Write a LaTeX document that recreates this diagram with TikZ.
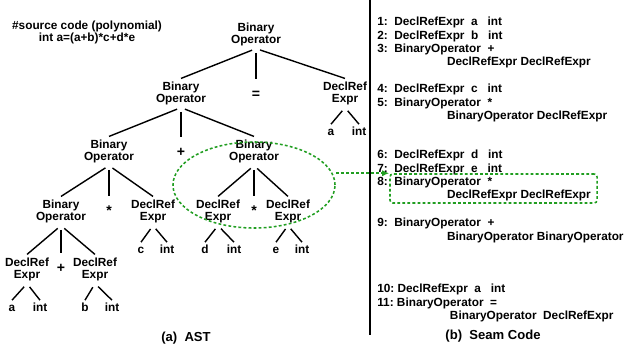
\documentclass[tikz,border=0pt]{standalone}
\usepackage{fontspec}
\setmainfont{Liberation Sans}
\usetikzlibrary{shapes.geometric,arrows.meta}
\definecolor{selgreen}{rgb}{0.13, 0.62, 0.13}

\tikzset{
  ast/.style={font=\bfseries\fontsize{8.4}{8.5}\selectfont, align=center, inner sep=2pt},
  op/.style={font=\bfseries\fontsize{10}{10}\selectfont, text height=11pt, text depth=0pt, anchor=base, inner sep=2pt},
  leaf/.style={font=\bfseries\fontsize{8.4}{8.5}\selectfont, text height=5.5pt, text depth=0pt, anchor=base, inner sep=2pt},
  branch/.style={line width=1pt, shorten <=3pt},
  seam/.style={font=\bfseries\fontsize{8.4}{9.5}\selectfont, align=left, anchor=north west, inner sep=0pt},
  subcap/.style={font=\bfseries\fontsize{9.3}{10}\selectfont},
  selline/.style={color=selgreen, line width=1.1pt, dash pattern=on 2pt off 1.6pt}
}

\begin{document}
\begin{tikzpicture}[x=0.025cm, y=-0.025cm]
        \useasboundingbox (0,0) rectangle (624,351);

        \node[ast] (src) at (87,32) {\#source code (polynomial)\\int a=(a+b)*c+d*e};

        \node[ast] (root) at (256,34) {Binary\\Operator};
        \node[ast] (bo1) at (181,93) {Binary\\Operator};
        \node[op] (eq) at (256,98) {=};
        \node[ast] (dr1) at (345,93) {DeclRef\\Expr};
        \node[leaf] (dr1a) at (331,135) {a};
        \node[leaf] (dr1i) at (359,135) {int};

        \node[ast] (bo2) at (109,151) {Binary\\Operator};
        \node[op] (plus1) at (181,156) {+};
        \node[ast] (bo3) at (254,151) {Binary\\Operator};

        \node[ast] (bo4) at (61,211) {Binary\\Operator};
        \node[op] (mul1) at (109,215) {*};
        \node[ast] (dr2) at (153,211) {DeclRef\\Expr};
        \node[ast] (dr3) at (218,211) {DeclRef\\Expr};
        \node[op] (mul2) at (254,215) {*};
        \node[ast] (dr4) at (288,211) {DeclRef\\Expr};

        \node[leaf] (dr2c) at (141,253) {c};
        \node[leaf] (dr2i) at (167,253) {int};
        \node[leaf] (dr3d) at (205,253) {d};
        \node[leaf] (dr3i) at (234,253) {int};
        \node[leaf] (dr4e) at (276,253) {e};
        \node[leaf] (dr4i) at (302,253) {int};

        \node[ast] (dr5) at (27,269) {DeclRef\\Expr};
        \node[op] (plus2) at (61,272) {+};
        \node[ast] (dr6) at (95,269) {DeclRef\\Expr};
        \node[leaf] (dr5a) at (12,311) {a};
        \node[leaf] (dr5i) at (40,311) {int};
        \node[leaf] (dr6b) at (85,311) {b};
        \node[leaf] (dr6i) at (112,311) {int};

        \draw[branch] (root.south) -- (bo1.north);
        \draw[branch] (root.south) -- (eq.north);
        \draw[branch] (root.south) -- (dr1.north);
        \draw[branch] (dr1.south) -- (dr1a.north);
        \draw[branch] (dr1.south) -- (dr1i.north);
        \draw[branch] (bo1.south) -- (bo2.north);
        \draw[branch] (bo1.south) -- (plus1.north);
        \draw[branch] (bo1.south) -- (bo3.north);
        \draw[branch] (bo2.south) -- (bo4.north);
        \draw[branch] (bo2.south) -- (mul1.north);
        \draw[branch] (bo2.south) -- (dr2.north);
        \draw[branch] (bo3.south) -- (dr3.north);
        \draw[branch] (bo3.south) -- (mul2.north);
        \draw[branch] (bo3.south) -- (dr4.north);
        \draw[branch] (dr2.south) -- (dr2c.north);
        \draw[branch] (dr2.south) -- (dr2i.north);
        \draw[branch] (dr3.south) -- (dr3d.north);
        \draw[branch] (dr3.south) -- (dr3i.north);
        \draw[branch] (dr4.south) -- (dr4e.north);
        \draw[branch] (dr4.south) -- (dr4i.north);
        \draw[branch] (bo4.south) -- (dr5.north);
        \draw[branch] (bo4.south) -- (plus2.north);
        \draw[branch] (bo4.south) -- (dr6.north);
        \draw[branch] (dr5.south) -- (dr5a.north);
        \draw[branch] (dr5.south) -- (dr5i.north);
        \draw[branch] (dr6.south) -- (dr6b.north);
        \draw[branch] (dr6.south) -- (dr6i.north);

        \draw[line width=0.9pt] (370,0) -- (370,335);

        \node[seam] (s1) at (377,17) {1:~~DeclRefExpr~~a~~~int\\2:~~DeclRefExpr~~b~~~int\\3:~~BinaryOperator~~+\\\hspace*{49.6pt}DeclRefExpr DeclRefExpr};
        \node[seam] (s4) at (377,84) {4:~~DeclRefExpr~~c~~~int\\5:~~BinaryOperator~~*\\\hspace*{49.6pt}BinaryOperator DeclRefExpr};
        \node[seam] (s6) at (377,150) {6:~~DeclRefExpr~~d~~~int\\7:~~DeclRefExpr~~e~~~int\\8:~~BinaryOperator~~*\\\hspace*{49.6pt}DeclRefExpr DeclRefExpr};
        \node[seam] (s9) at (377,218) {9:~~BinaryOperator~~+\\\hspace*{49.6pt}BinaryOperator BinaryOperator};
        \node[seam] (s10) at (377,284) {10:~DeclRefExpr~~a~~~int\\11:~BinaryOperator~~=\\\hspace*{51.7pt}BinaryOperator~~DeclRefExpr};

        \node[ellipse, draw, selline, minimum width=4.05cm, minimum height=2.15cm, inner sep=0pt] (sel) at (254,185) {};
        \node[rectangle, draw, rounded corners=2pt, selline, minimum width=5.175cm, minimum height=0.725cm, inner sep=0pt] (box) at (493.5,188.5) {};
        \draw[selline, -{Latex[length=5pt, width=4.5pt]}] (sel.east |- box.north west) -- (box.north west);

        \node[subcap] (capa) at (186,338) {(a)~~AST};
        \node[subcap] (capb) at (493,336) {(b)~~Seam Code};
\end{tikzpicture}
\end{document}
